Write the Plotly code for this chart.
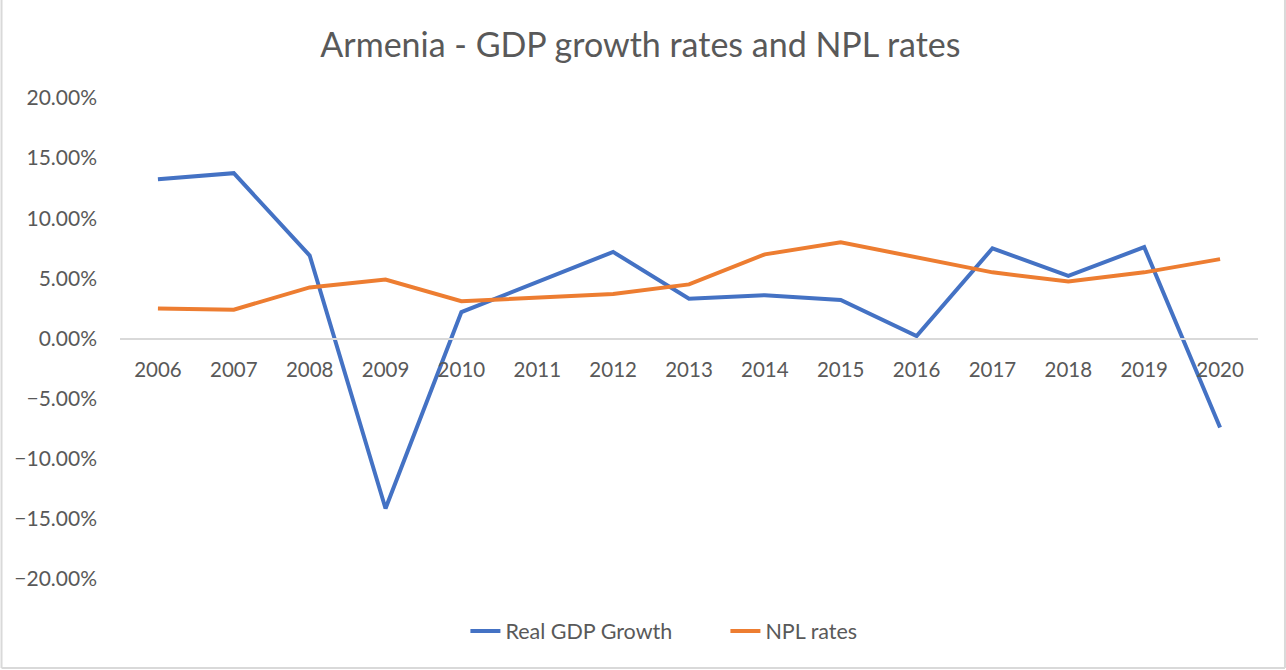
import plotly.graph_objects as go

years = ["2006", "2007", "2008", "2009", "2010", "2011", "2012", "2013",
         "2014", "2015", "2016", "2017", "2018", "2019", "2020"]
real_gdp_growth = [0.1325, 0.1375, 0.069, -0.1414, 0.022, 0.047, 0.072, 0.033,
                   0.036, 0.032, 0.002, 0.075, 0.052, 0.076, -0.074]
npl_rates = [0.025, 0.024, 0.0425, 0.049, 0.031, 0.034, 0.037, 0.045,
             0.070, 0.080, 0.0675, 0.055, 0.0475, 0.055, 0.066]

text_color = "#595959"
font_family = "Lato, 'Open Sans', sans-serif"

fig = go.Figure()
fig.add_trace(go.Scatter(x=years, y=real_gdp_growth, mode="lines",
                         name="Real GDP Growth",
                         line=dict(color="#4472C4", width=4)))
fig.add_trace(go.Scatter(x=years, y=npl_rates, mode="lines",
                         name="NPL rates",
                         line=dict(color="#ED7D31", width=4)))

# chart-area border (left, bottom, right)
border = dict(type="line", xref="paper", yref="paper",
              line=dict(color="#d9d9d9", width=2))
fig.add_shape(**border, x0=-0.1041, x1=-0.1041, y0=-0.185, y1=1.21)
fig.add_shape(**border, x0=-0.1041, x1=1.0237, y0=-0.185, y1=-0.185)
fig.add_shape(**border, x0=1.0237, x1=1.0237, y0=-0.185, y1=1.21)

fig.update_layout(
    width=1286, height=670,
    margin=dict(l=120, r=28, t=98, b=91),
    paper_bgcolor="white", plot_bgcolor="white",
    font=dict(family=font_family, color=text_color, size=20),
    title=dict(text="Armenia - GDP growth rates and NPL rates",
               x=0.498, xref="container", xanchor="center",
               y=1 - 45 / 670, yanchor="middle",
               font=dict(size=34, color=text_color)),
    showlegend=True,
    legend=dict(orientation="h", xanchor="center", x=0.532,
                yanchor="middle", y=-0.108,
                font=dict(size=21.5, color=text_color),
                itemwidth=30, tracegroupgap=0,
                entrywidth=215, entrywidthmode="pixels",
                bgcolor="rgba(0,0,0,0)"),
    xaxis=dict(type="category", range=[-0.5, 14.5],
               anchor="free", position=0.5,
               showline=True, linecolor="#d9d9d9", linewidth=2,
               showgrid=False, zeroline=False,
               ticks="", ticklabelstandoff=13,
               tickfont=dict(size=20.5, color=text_color)),
    yaxis=dict(range=[-0.2, 0.2], dtick=0.05, tickformat=".2%",
               showgrid=False, zeroline=False, showline=False,
               ticks="", ticklabelstandoff=22,
               tickfont=dict(size=21, color=text_color)),
)

fig.write_html("out.html")
